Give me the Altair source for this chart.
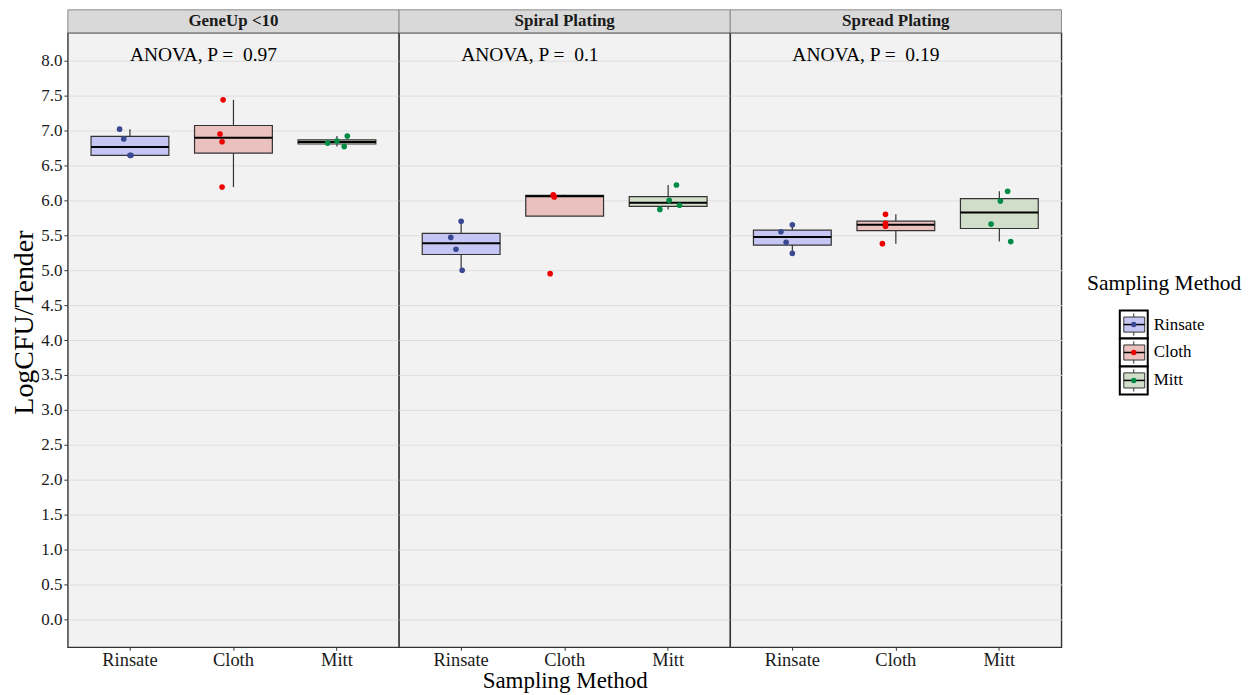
import altair as alt
import pandas as pd

FONT = "Liberation Serif"

panels = ["GeneUp <10", "Spiral Plating", "Spread Plating"]
methods = ["Rinsate", "Cloth", "Mitt"]
p_values = ["0.97", "0.1", "0.19"]
y_ticks = [0.0, 0.5, 1.0, 1.5, 2.0, 2.5, 3.0, 3.5, 4.0, 4.5, 5.0, 5.5, 6.0, 6.5, 7.0, 7.5, 8.0]

# LogCFU/Tender, four tenders per method and panel
geneup_rinsate = [7.02, 6.88, 6.645, 6.645]
geneup_cloth = [6.95, 6.84, 7.44, 6.19]
geneup_mitt = [6.82, 6.85, 6.92, 6.77]
spiral_rinsate = [5.70, 5.47, 5.30, 5.00]
spiral_cloth = [6.08, 6.05, 4.95, 6.07]
spiral_mitt = [6.22, 6.00, 5.93, 5.87]
spread_rinsate = [5.65, 5.55, 5.40, 5.24]
spread_cloth = [5.80, 5.67, 5.63, 5.38]
spread_mitt = [6.13, 5.99, 5.66, 5.41]

# horizontal jitter of each point (fraction of one category step)
geneup_rinsate_jit = [-0.10, -0.06, 0.00, 0.01]
geneup_cloth_jit = [-0.13, -0.11, -0.10, -0.11]
geneup_mitt_jit = [-0.09, 0.00, 0.10, 0.07]
spiral_rinsate_jit = [0.00, -0.10, -0.05, 0.01]
spiral_cloth_jit = [-0.11, -0.10, -0.14, -0.11]
spiral_mitt_jit = [0.08, 0.01, 0.11, -0.08]
spread_rinsate_jit = [0.00, -0.11, -0.06, 0.00]
spread_cloth_jit = [-0.10, -0.10, -0.10, -0.13]
spread_mitt_jit = [0.08, 0.01, -0.08, 0.11]

point_colors = ["#3B4992", "#EE0000", "#008B45"]
box_fills = ["#c6c6f4", "#eac1be", "#d1dfca"]

label_y = 8.08

series = [
    (panels[0], methods[0], geneup_rinsate, geneup_rinsate_jit),
    (panels[0], methods[1], geneup_cloth, geneup_cloth_jit),
    (panels[0], methods[2], geneup_mitt, geneup_mitt_jit),
    (panels[1], methods[0], spiral_rinsate, spiral_rinsate_jit),
    (panels[1], methods[1], spiral_cloth, spiral_cloth_jit),
    (panels[1], methods[2], spiral_mitt, spiral_mitt_jit),
    (panels[2], methods[0], spread_rinsate, spread_rinsate_jit),
    (panels[2], methods[1], spread_cloth, spread_cloth_jit),
    (panels[2], methods[2], spread_mitt, spread_mitt_jit),
]
rows = []
for pn, m, vals, jits in series:
    for v, j in zip(vals, jits):
        rows.append({"panel": pn, "method": m, "value": v, "jit": j})
df = pd.DataFrame(rows)

ann_df = pd.DataFrame({
    "panel": panels,
    "method": [methods[0]] * len(panels),
    "label": ["ANOVA, P = \u00a0" + p for p in p_values],
    "label_y": [label_y] * len(panels),
})

PW, PH = 332, 616
BOX_W = 78


def panel(i):
    name = panels[i]
    d = df[df.panel == name]
    a = ann_df[ann_df.panel == name]
    xsc = alt.Scale(domain=methods, paddingInner=0, paddingOuter=0.1)
    ysc = alt.Scale(domain=[-0.4, 8.4], nice=False, zero=False)
    if i == 0:
        yaxis = alt.Axis(values=y_ticks, format=".1f", title="LogCFU/Tender",
                         labelFontSize=17, tickSize=4, labelPadding=2,
                         titleFontSize=28, titlePadding=2, titleY=290,
                         grid=True, domain=False)
    else:
        yaxis = alt.Axis(values=y_ticks, labels=False, ticks=False, title=None,
                         grid=True, domain=False)
    xaxis = alt.Axis(title="Sampling Method" if i == 1 else None, labelAngle=0,
                     bandPosition=0.5, labelFontSize=18.5, tickSize=3,
                     labelBaseline="middle", labelPadding=9,
                     titleFontSize=23, titlePadding=1, domain=False)
    X = lambda: alt.X("method:N", scale=xsc, axis=xaxis, sort=methods)
    Y = lambda f: alt.Y(f, scale=ysc, axis=yaxis)

    stats = (alt.Chart(d)
             .transform_joinaggregate(q1="q1(value)", q3="q3(value)", med="median(value)",
                                      groupby=["method"])
             .transform_calculate(lof="datum.q1 - 1.5*(datum.q3 - datum.q1)",
                                  hif="datum.q3 + 1.5*(datum.q3 - datum.q1)")
             .transform_filter("datum.value >= datum.lof && datum.value <= datum.hif")
             .transform_aggregate(q1="min(q1)", q3="min(q3)", med="min(med)",
                                  wlo="min(value)", whi="max(value)", groupby=["method"]))
    wlo = stats.mark_rule(color="#333333", strokeWidth=1.2).encode(
        x=X(), y=Y("wlo:Q"), y2="q1:Q")
    whi = stats.mark_rule(color="#333333", strokeWidth=1.2).encode(
        x=X(), y=Y("q3:Q"), y2="whi:Q")
    box = stats.mark_bar(size=BOX_W, stroke="#333333", strokeWidth=1.2, opacity=1).encode(
        x=X(), y=Y("q1:Q"), y2="q3:Q",
        fill=alt.Fill("method:N", scale=alt.Scale(domain=methods, range=box_fills), legend=None))
    med = stats.mark_tick(size=BOX_W, thickness=2, color="black", opacity=1).encode(
        x=X(), y=Y("med:Q"))
    pts = alt.Chart(d).mark_circle(size=32, opacity=1).encode(
        x=X(),
        xOffset=alt.XOffset("jit:Q", scale=alt.Scale(domain=[-0.5, 0.5], nice=False, zero=False)),
        y=Y("value:Q"),
        color=alt.Color("method:N", scale=alt.Scale(domain=methods, range=point_colors), legend=None))
    txt = alt.Chart(a).mark_text(align="left", baseline="middle", fontSize=19.5,
                                 font=FONT, color="black").encode(
        x=X(), y=Y("label_y:Q"), text="label:N")
    strip = alt.Chart(a).mark_rect(fill="#d9d9d9", stroke="#8a8a8a", strokeWidth=1).encode(
        x=alt.value(0), x2=alt.value(PW), y=alt.value(-23), y2=alt.value(0))
    strip_txt = alt.Chart(a).mark_text(fontWeight="bold", fontSize=17, font=FONT,
                                       color="#1a1a1a", baseline="middle").encode(
        x=alt.value(PW / 2), y=alt.value(-11.5), text="panel:N")
    return alt.layer(wlo, whi, box, med, pts, txt, strip, strip_txt).properties(width=PW, height=PH)


# custom legend (key glyphs drawn like the boxplot keys), placed right of the panels
LEG_GAP = 58.5
leg_df = pd.DataFrame({"method": methods, "idx": list(range(len(methods)))})
title_df = pd.DataFrame({"t": ["Sampling Method"], "idx": [-1.45]})
KEY_CENTER_PX = 292.5
KEY_STEP = 28
lsc = alt.Scale(domain=[-KEY_CENTER_PX / KEY_STEP, (PH - KEY_CENTER_PX) / KEY_STEP],
                reverse=True, nice=False, zero=False)
lb = alt.Chart(leg_df).transform_calculate(
    lo="datum.idx - 0.5", hi="datum.idx + 0.5",
    wl="datum.idx - 0.4", wh="datum.idx + 0.4",
    bl="datum.idx - 0.27", bh="datum.idx + 0.27")
outer = lb.mark_rect(fill="white", stroke="black", strokeWidth=2).encode(
    x=alt.value(LEG_GAP), x2=alt.value(LEG_GAP + 28),
    y=alt.Y("lo:Q", scale=lsc, axis=None), y2="hi:Q")
lwh = lb.mark_rule(color="#333333").encode(
    x=alt.value(LEG_GAP + 14), y=alt.Y("wl:Q", scale=lsc, axis=None), y2="wh:Q")
lbox = lb.mark_rect(stroke="#333333", strokeWidth=1).encode(
    x=alt.value(LEG_GAP + 4), x2=alt.value(LEG_GAP + 25),
    y=alt.Y("bl:Q", scale=lsc, axis=None), y2="bh:Q",
    fill=alt.Fill("method:N", scale=alt.Scale(domain=methods, range=box_fills), legend=None))
lmed = lb.mark_rule(color="black", strokeWidth=1.5).encode(
    x=alt.value(LEG_GAP + 4), x2=alt.value(LEG_GAP + 25),
    y=alt.Y("idx:Q", scale=lsc, axis=None))
ldot = lb.mark_circle(size=30, opacity=1).encode(
    x=alt.value(LEG_GAP + 14), y=alt.Y("idx:Q", scale=lsc, axis=None),
    color=alt.Color("method:N", scale=alt.Scale(domain=methods, range=point_colors), legend=None))
ltxt = lb.mark_text(align="left", baseline="middle", fontSize=17, font=FONT, color="black").encode(
    x=alt.value(LEG_GAP + 34), y=alt.Y("idx:Q", scale=lsc, axis=None), text="method:N")
ltitle = alt.Chart(title_df).mark_text(align="center", baseline="middle", fontSize=21.5,
                                       font=FONT, color="black").encode(
    x=alt.value(LEG_GAP + 44.5), y=alt.Y("idx:Q", scale=lsc, axis=None), text="t:N")
legend = alt.layer(outer, lwh, lbox, lmed, ldot, ltxt, ltitle).properties(
    width=LEG_GAP + 90, height=PH,
    view=alt.ViewBackground(fill="transparent", stroke="transparent"))

chart = alt.hconcat(*[panel(i) for i in range(3)], legend, spacing=0, bounds="flush").properties(
    padding={"left": 2, "top": -1, "right": 0, "bottom": 0}
).configure_view(
    stroke="#333333", strokeWidth=1.4, fill="#f2f2f2"
).configure_axis(
    labelFont=FONT, titleFont=FONT, labelColor="#1a1a1a", titleColor="black",
    tickColor="#333333", gridColor="#dedede", gridWidth=1, titleFontWeight="normal"
)

chart.save("out.html", embed_options={"renderer": "svg", "actions": False})
